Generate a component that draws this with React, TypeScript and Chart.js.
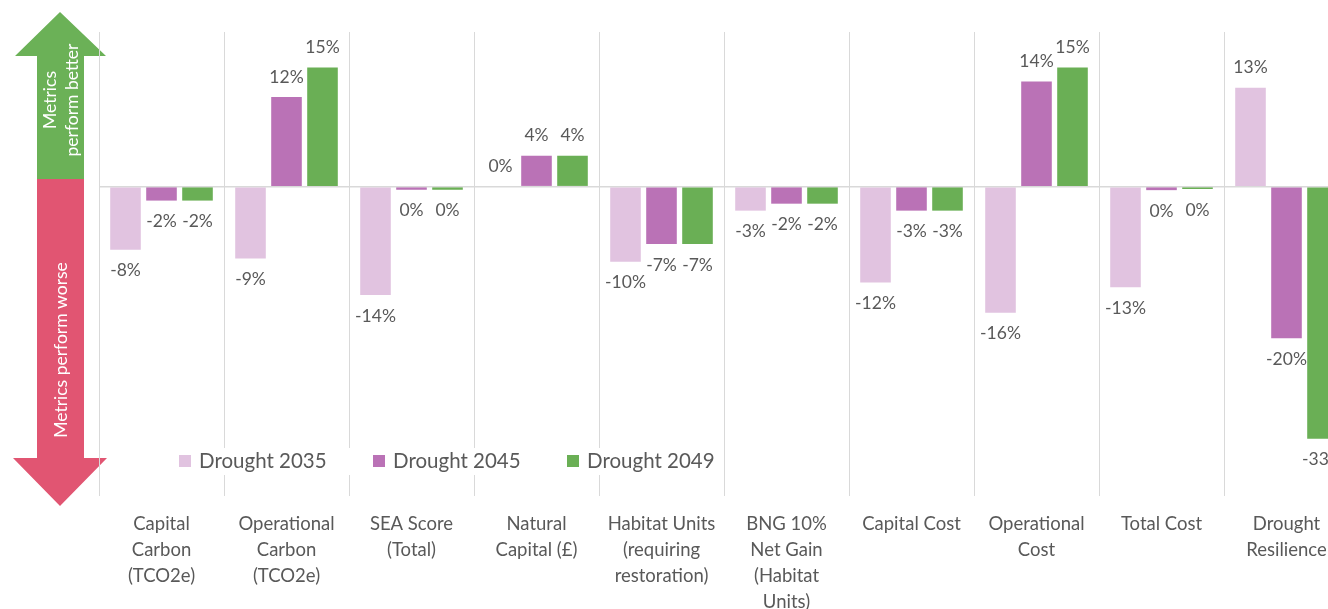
import React, { useEffect, useRef } from "react";
import { Chart, registerables } from "chart.js";

Chart.register(...registerables);

const categories: string[][] = [
  ["Capital", "Carbon", "(TCO2e)"],
  ["Operational", "Carbon", "(TCO2e)"],
  ["SEA Score", "(Total)"],
  ["Natural", "Capital (£)"],
  ["Habitat Units", "(requiring", "restoration)"],
  ["BNG 10%", "Net Gain", "(Habitat", "Units)"],
  ["Capital Cost"],
  ["Operational", "Cost"],
  ["Total Cost"],
  ["Drought", "Resilience"],
];

const seriesNames = ["Drought 2035", "Drought 2045", "Drought 2049"];
const drought2035 = [-8.15, -9.3, -14.0, 0, -9.7, -3.1, -12.4, -16.3, -13.0, 12.8];
const drought2045 = [-1.8, 11.6, -0.4, 4.0, -7.4, -2.2, -3.1, 13.6, -0.45, -19.6];
const drought2049 = [-1.8, 15.4, -0.4, 4.0, -7.4, -2.2, -3.1, 15.4, -0.3, -32.6];
const seriesColors = ["#E1C3E0", "#BA72B6", "#6AAF55"];

const yMin = -40;
const yMax = 20;

const FONT = "Lato, 'Open Sans', sans-serif";
const TEXT = "#595959";
const GRID = "#D9D9D9";

const arrowsPlugin = {
  id: "arrows",
  beforeDraw(chart: any) {
    const ctx = chart.ctx as CanvasRenderingContext2D;
    ctx.save();
    ctx.fillStyle = "#6BB157";
    ctx.beginPath();
    ctx.moveTo(60, 12);
    ctx.lineTo(106, 56);
    ctx.lineTo(84, 56);
    ctx.lineTo(84, 179);
    ctx.lineTo(37, 179);
    ctx.lineTo(37, 56);
    ctx.lineTo(15, 56);
    ctx.closePath();
    ctx.fill();
    ctx.fillStyle = "#E15572";
    ctx.beginPath();
    ctx.moveTo(37, 179);
    ctx.lineTo(84, 179);
    ctx.lineTo(84, 458);
    ctx.lineTo(107, 458);
    ctx.lineTo(60, 506);
    ctx.lineTo(13, 458);
    ctx.lineTo(37, 458);
    ctx.closePath();
    ctx.fill();
    ctx.fillStyle = "#FFFFFF";
    ctx.font = `17.5px ${FONT}`;
    ctx.textAlign = "center";
    ctx.textBaseline = "middle";
    const rot = (text: string, x: number, y: number) => {
      ctx.save();
      ctx.translate(x, y);
      ctx.rotate(-Math.PI / 2);
      ctx.fillText(text, 0, 0);
      ctx.restore();
    };
    rot("Metrics", 50, 100);
    rot("perform better", 72, 100);
    rot("Metrics perform worse", 61, 350);
    ctx.restore();
  },
};

const labelsPlugin = {
  id: "barLabels",
  afterDatasetsDraw(chart: any) {
    const ctx = chart.ctx as CanvasRenderingContext2D;
    ctx.save();
    ctx.font = `17.5px ${FONT}`;
    ctx.fillStyle = TEXT;
    ctx.textAlign = "center";
    ctx.textBaseline = "middle";
    chart.data.datasets.forEach((ds: any, di: number) => {
      const meta = chart.getDatasetMeta(di);
      meta.data.forEach((bar: any, i: number) => {
        const v = ds.data[i] as number;
        const txt = `${Math.round(v)}%`;
        const y = v >= 0 ? bar.y - 20 : bar.y + 21;
        ctx.fillText(txt, bar.x, y);
      });
    });
    ctx.restore();
  },
};

const legendPlugin = {
  id: "customLegend",
  afterDraw(chart: any) {
    const ctx = chart.ctx as CanvasRenderingContext2D;
    ctx.save();
    ctx.fillStyle = "#FFFFFF";
    ctx.fillRect(170, 448, 552, 27);
    const xs = [179, 373, 567];
    ctx.font = `20.5px ${FONT}`;
    ctx.textAlign = "left";
    ctx.textBaseline = "middle";
    seriesNames.forEach((name, i) => {
      ctx.fillStyle = seriesColors[i];
      ctx.fillRect(xs[i], 455, 12, 12);
      ctx.fillStyle = TEXT;
      ctx.fillText(name, xs[i] + 20, 461.5);
    });
    ctx.restore();
  },
};

export default function App() {
  const ref = useRef<HTMLCanvasElement | null>(null);
  useEffect(() => {
    if (!ref.current) return;
    const chart = new Chart(ref.current, {
      type: "bar",
      data: {
        labels: categories,
        datasets: [
          { label: seriesNames[0], data: drought2035, backgroundColor: seriesColors[0] },
          { label: seriesNames[1], data: drought2045, backgroundColor: seriesColors[1] },
          { label: seriesNames[2], data: drought2049, backgroundColor: seriesColors[2] },
        ],
      },
      options: {
        responsive: false,
        animation: false,
        devicePixelRatio: 1,
        layout: { padding: { left: 99, top: 32, right: 11, bottom: 0 } },
        datasets: { bar: { categoryPercentage: 0.864, barPercentage: 0.85 } },
        plugins: {
          legend: { display: false },
          tooltip: { enabled: false },
        },
        scales: {
          x: {
            grid: { offset: true, color: GRID, drawTicks: false, lineWidth: 1 },
            border: { display: false },
            ticks: {
              color: TEXT,
              font: { family: FONT, size: 18.5, lineHeight: "26px" },
              padding: 15,
              autoSkip: false,
              maxRotation: 0,
              minRotation: 0,
            },
            afterFit(scale: any) {
              scale.height = 113;
            },
          },
          y: {
            min: yMin,
            max: yMax,
            ticks: { display: false, stepSize: 10 },
            border: { display: false },
            grid: {
              drawTicks: false,
              lineWidth: 1.5,
              color: (c: any) => (c.tick && Math.abs(c.tick.value) < 1e-9 ? GRID : "rgba(0,0,0,0)"),
            },
            afterFit(scale: any) {
              scale.width = 0;
            },
          },
        },
      },
      plugins: [arrowsPlugin, labelsPlugin, legendPlugin],
    });
    return () => chart.destroy();
  }, []);
  return (
    <div style={{ position: "fixed", left: 0, top: 0, width: 1328, height: 609, overflow: "hidden", background: "#fff" }}>
      <canvas ref={ref} width={1360} height={609} style={{ position: "absolute", left: 0, top: 0, display: "block" }} />
    </div>
  );
}
